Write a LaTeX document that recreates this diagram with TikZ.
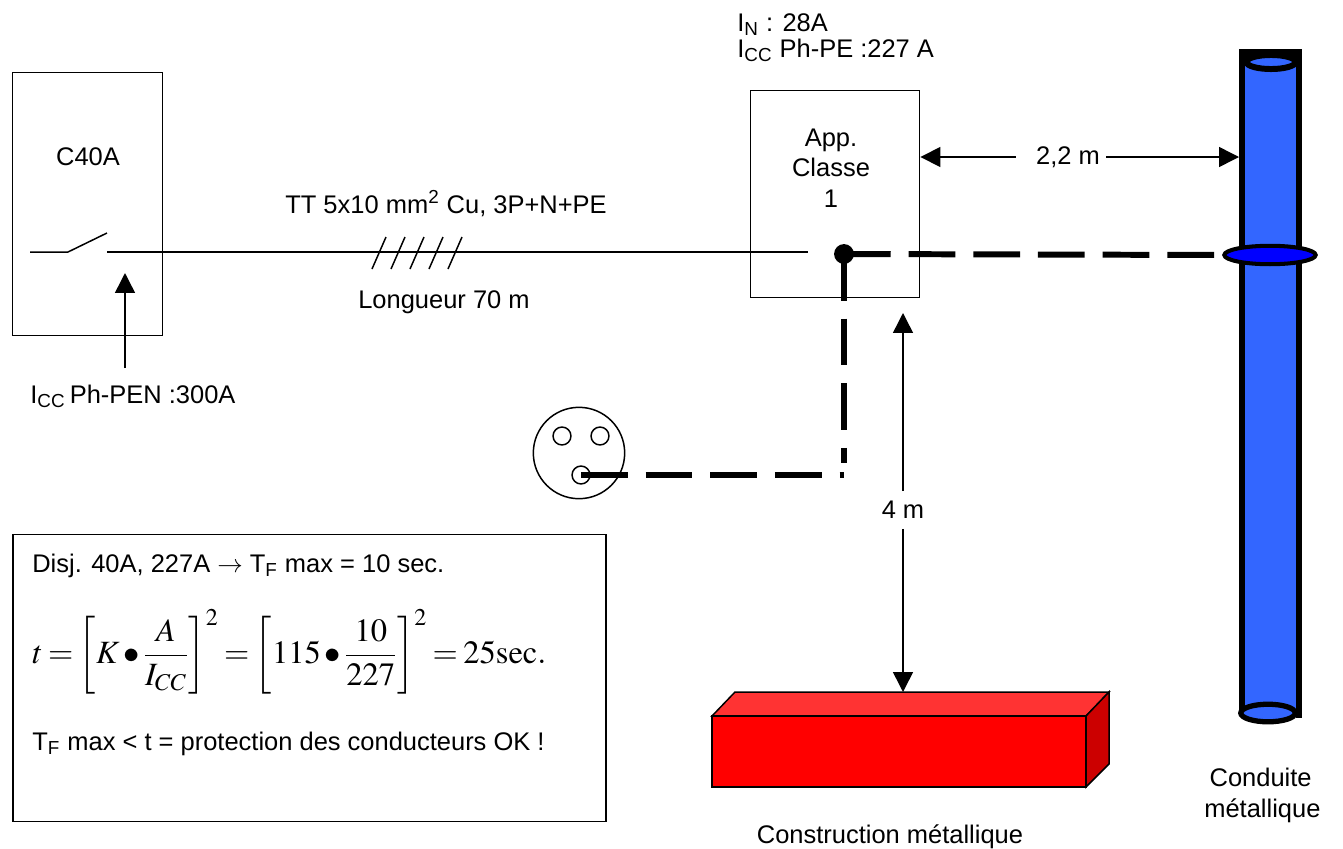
\documentclass[tikz,border=0pt]{standalone}
\usepackage{mathptmx}
\usepackage[no-math]{fontspec}
\setmainfont{Liberation Sans}
\usetikzlibrary{arrows.meta}
\usetikzlibrary{shapes.geometric}
\usepackage{xcolor}
\definecolor{pipeblue}{HTML}{3366FF}
\definecolor{ringblue}{HTML}{0000FF}
\definecolor{redfront}{HTML}{FF0000}
\definecolor{redtop}{HTML}{FF3333}
\definecolor{redside}{HTML}{CC0000}
\newcommand{\isub}[1]{\textsubscript{#1}}
\tikzset{
  wire/.style={line width=0.85pt},
  pewire/.style={line width=3.4pt, dash pattern=on 26.6pt off 10.2pt},
  dim/.style={-{Triangle[length=11.3pt,width=11.3pt]}, line width=0.85pt},
  box/.style={draw, line width=0.85pt, inner sep=0pt},
  txt/.style={inner sep=0pt},
  hole/.style={circle, draw, line width=0.85pt, minimum size=10.2pt, inner sep=0pt}
}

\begin{document}
\begin{tikzpicture}[x=0.02cm, y=-0.02cm, font=\fontsize{14.5}{17.5}\selectfont]
\useasboundingbox (0,0) rectangle (1343,849);

% disjoncteur
\node[box, minimum width=85.6pt, minimum height=149.7pt] (disj) at (87.5,204) {};
\node[txt] (c40) at (88,157) {C40A};
\coordinate (swa) at (30,252);
\coordinate (swb) at (68,252);
\coordinate (swc) at (107,233);
\coordinate (swd) at (107,252);
\coordinate (cabend) at (808,252);
\draw[wire] (swa) -- (swb) -- (swc);
\draw[wire] (swd) -- (cabend);
\foreach \k in {0,...,4} {
  \draw[wire] (372+19*\k,269) -- (386+19*\k,237);
}
\node[txt, anchor=base] (cable) at (446,213) {TT 5x10 mm\textsuperscript{2} Cu, 3P+N+PE};
\node[txt, anchor=base] (len) at (444,308) {Longueur 70 m};

\coordinate (swfoot) at (125,368);
\coordinate (swtip) at (125,273);
\draw[dim] (swfoot) -- (swtip);
\node[txt, anchor=base west] (iccpen) at (30,403) {I\isub{CC}\,Ph-PEN :300A};

% appareil
\node[box, minimum width=96.4pt, minimum height=117.9pt] (app) at (835,194) {};
\node[txt, align=center] (apptxt) at (831,168) {App.\\Classe\\1};
\node[txt, anchor=base west] (inom) at (737,31) {I\isub{N} : 28A};
\node[txt, anchor=base west] (iccpe) at (737,57) {I\isub{CC} Ph-PE :227 A};

% conduite metallique
\fill[pipeblue] (1242,62) rectangle (1299,713);
\draw[line width=3.4pt] (1242,49) -- (1242,713);
\draw[line width=3.4pt] (1299,49) -- (1299,718);
\fill[black] (1239,49) rectangle (1302,62);
\draw[line width=3.4pt, fill=pipeblue] (1271,62) ellipse [x radius=14pt, y radius=4pt];
\draw[line width=3pt, fill=pipeblue] (1268,713) ellipse [x radius=15.5pt, y radius=5pt];
\node[ellipse, draw, line width=2.3pt, fill=ringblue, minimum width=52pt, minimum height=10.5pt, inner sep=0pt] (ring) at (1270,255) {};
\node[txt, align=left, anchor=north west] (conduite) at (1204,768) {\hspace*{3pt}Conduite\\m\'etallique};

% construction metallique
\draw[wire, fill=redtop] (712,716) -- (735,692) -- (1109,692) -- (1086,716) -- cycle;
\draw[wire, fill=redside] (1086,716) -- (1109,692) -- (1109,764) -- (1086,787) -- cycle;
\draw[wire, fill=redfront] (712,716) rectangle (1086,787);
\node[txt, anchor=base] (constr) at (890,843) {Construction m\'etallique};

% prise
\node[circle, draw, line width=0.85pt, minimum size=52pt, inner sep=0pt] (socket) at (579,453) {};
\node[hole] (holeL) at (562,436) {};
\node[hole] (holeR) at (600,436) {};
\node[hole] (pin) at (581,475) {};

% conducteur PE
\node[circle, fill, minimum size=11.3pt, inner sep=0pt] (pe) at (844,254) {};
\coordinate (pedown) at (844,463);
\coordinate (pecorner) at (844,475);
\draw[pewire] (pe.center) -- (ring.west);
\draw[pewire] (pe.center) -- (pedown);
\draw[pewire] (pin.center) -- (pecorner);

% cotes
\node[txt, inner xsep=3.4pt] (d22) at (1068,157) {2,2 m};
\coordinate (pipeleft) at (1239,157);
\draw[dim] ([xshift=-8pt]d22.west) -- (d22.west -| app.east);
\draw[dim] (d22.east) -- (pipeleft);
\node[inner sep=5.5pt] (d4) at (903,510) {4 m};
\coordinate (c4top) at (903,313);
\coordinate (metal) at (903,692);
\draw[dim] (d4.north) -- (c4top);
\draw[dim] (d4.south) -- (metal);

% calcul
\node[box, minimum width=337.3pt, minimum height=163.3pt] (calc) at (309.5,678) {};
\node[txt, anchor=base west] (disjtxt) at (32,572) {Disj. 40A, 227A $\rightarrow$ T\isub{F} max = 10 sec.};
\node[txt, anchor=west] (formula) at (32,652) {\fontsize{18.5}{22}\selectfont \thickmuskip=3mu \medmuskip=2mu
  $\displaystyle t=\left[K\bullet\frac{A}{I_{CC}}\right]^2=\left[115\bullet\frac{10}{227}\right]^2=25\mathrm{sec}.$};
\node[txt, anchor=base west] (oktxt) at (32,750) {T\isub{F} max < t = protection des conducteurs OK !};
\end{tikzpicture}
\end{document}
